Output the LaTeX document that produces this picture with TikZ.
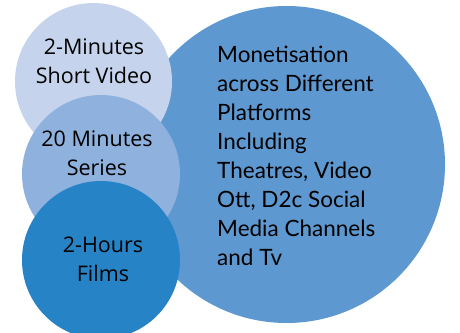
\documentclass[tikz,border=0pt]{standalone}
\usepackage{fontspec}
\newfontfamily\bigfont{Lato}
\newfontfamily\smallfont{Open Sans}
\definecolor{cbig}{HTML}{5E98D0}
\definecolor{clight}{HTML}{C5D4EC}
\definecolor{cmid}{HTML}{8FB1DE}
\definecolor{cdark}{HTML}{2683C6}
\tikzset{
  bubble/.style={circle, inner sep=0pt, draw=none},
  smalltxt/.style={align=center, anchor=base, inner sep=0pt, font={\smallfont\fontsize{21.5}{29}\selectfont}},
  bigtxt/.style={align=left, anchor=base west, inner sep=0pt, font={\bigfont\fontsize{22.5}{29}\selectfont}}
}
\begin{document}
\begin{tikzpicture}[x=1pt,y=-1pt]
\useasboundingbox (0,0) rectangle (460,332);
\begin{scope}
\clip (0,0) rectangle (460,332);
\node[bubble, fill=cbig, minimum size=317pt] (big) at (286.5,164.5) {};
\node[bubble, fill=clight, minimum size=157pt] (c1) at (93.5,81.5) {};
\node[bubble, fill=cmid, minimum size=158pt] (c2) at (101,174) {};
\node[bubble, fill=cdark, minimum size=158pt] (c3) at (101,260) {};
\end{scope}
\node[smalltxt] (t1) at (94,83) {2-Minutes\\Short Video};
\node[smalltxt] (t2) at (97,175) {20 Minutes\\Series};
\node[smalltxt] (t3) at (103,281) {2-Hours\\Films};
\node[bigtxt] (tb) at (217,265) {Monetisation\\across Different\\Platforms\\Including\\Theatres, Video\\Ott, D2c Social\\Media Channels\\and Tv};
\end{tikzpicture}
\end{document}
